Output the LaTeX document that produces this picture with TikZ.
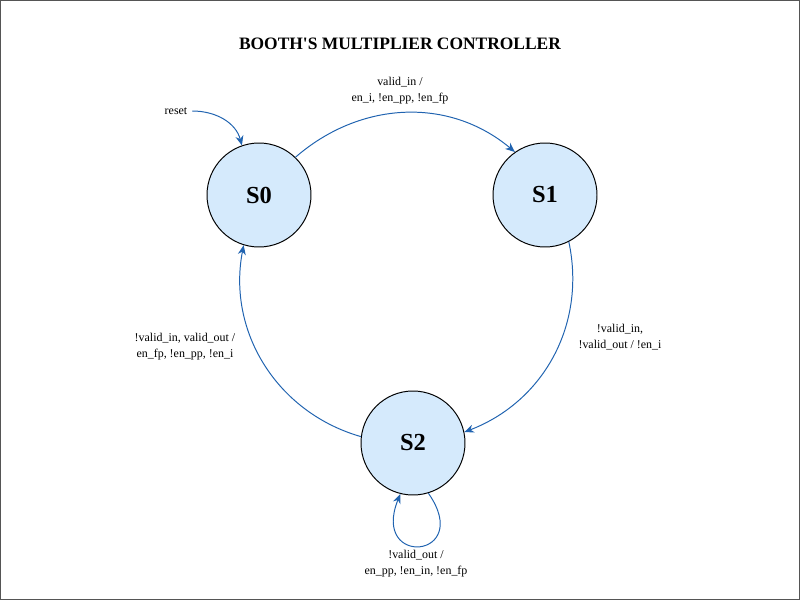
\documentclass[tikz,border=0pt]{standalone}
\usepackage{fontspec}
\setmainfont{Liberation Serif}
\usepackage{tikz}
\usepackage{xcolor}
\usetikzlibrary{arrows.meta, positioning}

\definecolor{stateblue}{RGB}{213,234,252}
\definecolor{edgeblue}{RGB}{32,99,176}
\definecolor{framegray}{RGB}{85,85,85}

\tikzset{
        state/.style={circle, draw=black, line width=0.7pt, fill=stateblue, minimum size=2.6cm, inner sep=0pt, font=\fontsize{17.4}{20}\selectfont\bfseries},
        trans/.style={draw=edgeblue, line width=0.7pt, -{Stealth[length=2.4mm, width=2mm]}},
        edgelabel/.style={align=center, font=\fontsize{8.5}{11.3}\selectfont}
}

\begin{document}
\begin{tikzpicture}

        \useasboundingbox (0,0) rectangle (20,15);
        \draw[framegray, line width=0.8pt] (0.015,0.015) rectangle (19.985,14.985);

        \node (title) at (10,13.9) {\fontsize{12.4}{15}\selectfont\bfseries BOOTH\textquotesingle S MULTIPLIER CONTROLLER};

        \node[state] (s0) at (6.475,10.125) {S0};
        \node[state] (s1) at (13.625,10.125) {S1};
        \node[state] (s2) at (10.325,3.925) {S2};

        \node[edgelabel] (reset) at (4.4,12.225) {reset};
        \draw[trans] (reset.east) to[out=0, in=105] (s0.109);

        \draw[trans] (s0.46) to[out=41, in=140] (s1.125);
        \draw[trans] (s1.-63) to[out=-78, in=21] (s2.12);
        \draw[trans] (s2.173) to[out=164, in=-101] (s0.-107);
        \draw[trans] (s2.-73) to[out=-55, in=-112, looseness=7.3] (s2.-104);

        \node[edgelabel] (l01) at (10,12.725) {valid\_in /\\en\_i, !en\_pp, !en\_fp};
        \node[edgelabel] (l12) at (15.5,6.575) {!valid\_in,\\!valid\_out / !en\_i};
        \node[edgelabel] (l20) at (4.625,6.325) {!valid\_in, valid\_out /\\en\_fp, !en\_pp, !en\_i};
        \node[edgelabel] (l22) at (10.4,0.9) {!valid\_out /\\en\_pp, !en\_in, !en\_fp};

\end{tikzpicture}
\end{document}
